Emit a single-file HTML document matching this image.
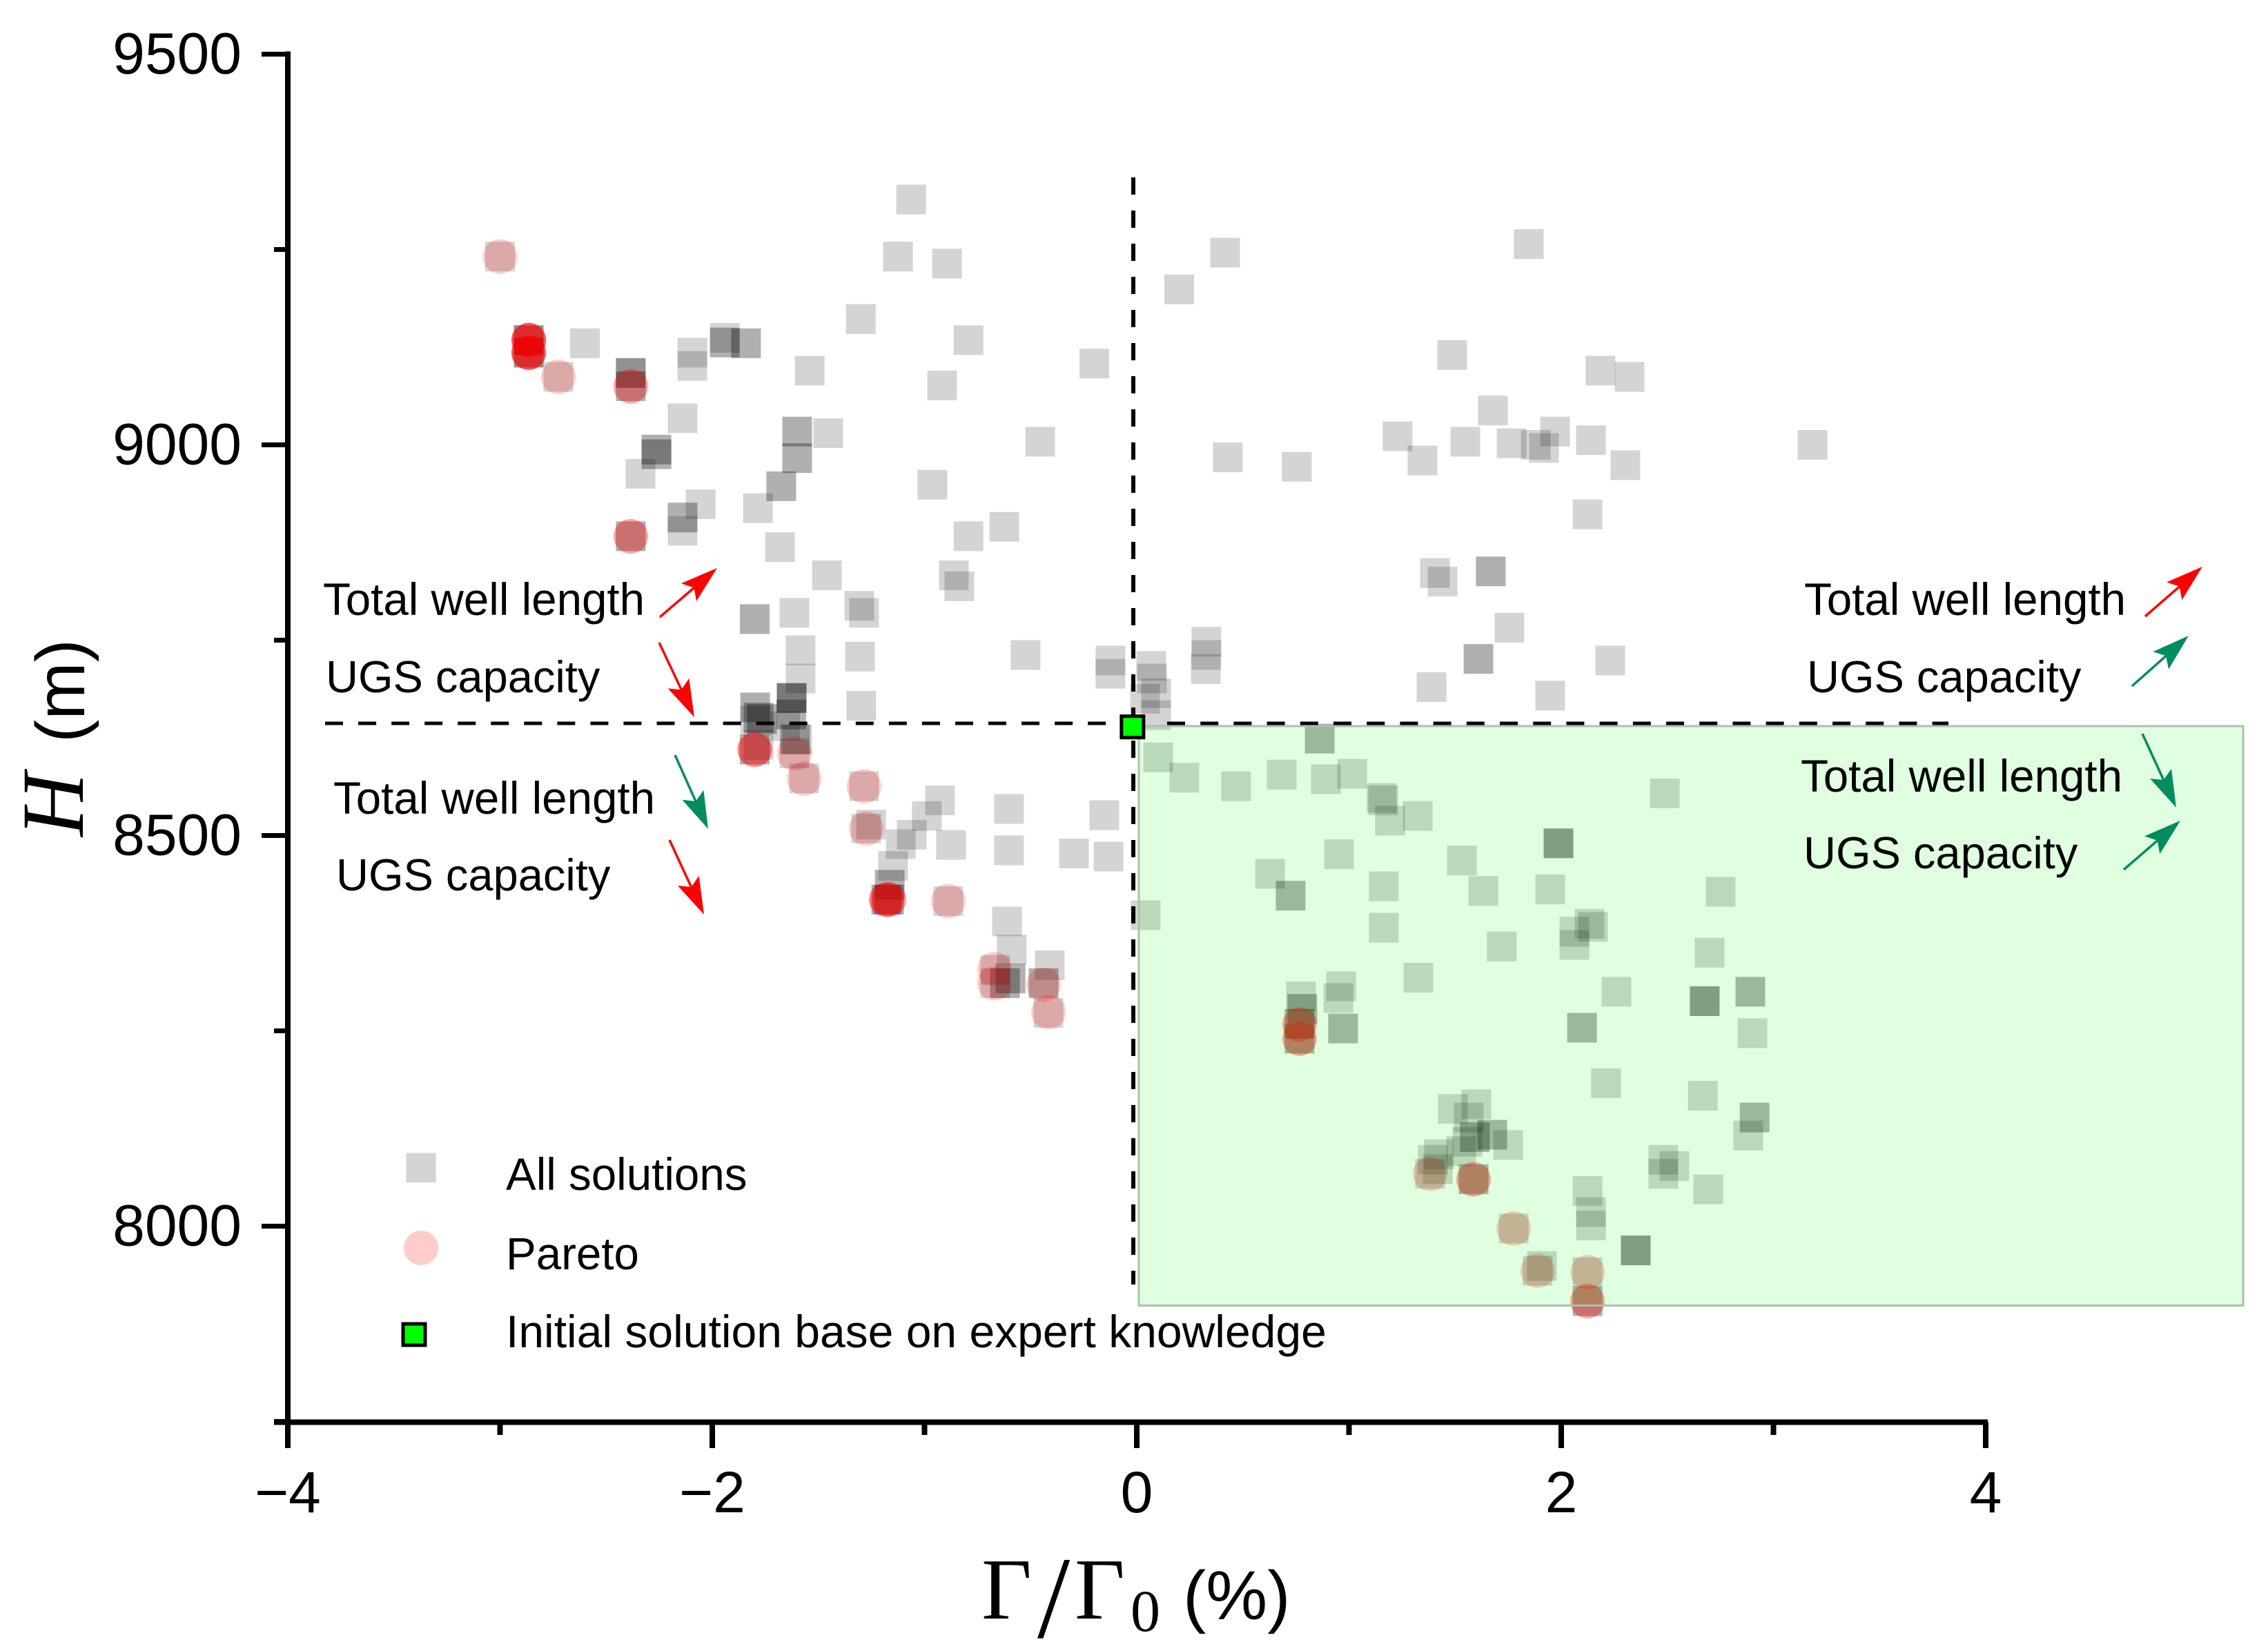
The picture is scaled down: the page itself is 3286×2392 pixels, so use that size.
<!DOCTYPE html>
<html lang="en">
<head>
<meta charset="utf-8">
<title>Pareto scatter chart</title>
<style>
html,body{margin:0;padding:0;background:#fff;}
svg{display:block;}
text{font-family:"Liberation Sans",Arial,sans-serif;fill:#000;}
.serif{font-family:"Liberation Serif","Times New Roman",serif;}
.note{font-size:65.5px;}
</style>
</head>
<body>
<svg id="chart" xmlns="http://www.w3.org/2000/svg" width="3286" height="2392" viewBox="0 0 3286 2392">
  <rect x="0" y="0" width="3286" height="2392" fill="#fff"/>
  <g id="all-layer"></g>
  <g id="pareto-layer"></g>
  <rect x="1650" y="1052" width="1600" height="839.5" fill="#00ff00" fill-opacity="0.12" stroke="#aac3aa" stroke-width="3"/>
  <line x1="471" y1="1048" x2="1625" y2="1048" stroke="#000" stroke-width="5" stroke-dasharray="26 22.05"/>
  <line x1="1691" y1="1048" x2="2823" y2="1048" stroke="#000" stroke-width="5" stroke-dasharray="26 22.2"/>
  <line x1="1642" y1="257" x2="1642" y2="1861" stroke="#000" stroke-width="6" stroke-dasharray="25 23"/>
  <g id="initial-layer"></g>
  <g id="axes-layer"></g>

  <text class="serif" font-style="italic" font-size="128" transform="translate(120 1212) rotate(-90)">H</text>
  <text font-size="100" transform="translate(122 1076) rotate(-90)">(m)</text>

  <g>
    <text class="serif" font-size="126" x="1422" y="2345">Γ</text>
    <text class="serif" font-size="170" x="1503" y="2372">/</text>
    <text class="serif" font-size="126" x="1557" y="2345">Γ</text>
    <text class="serif" font-size="86" x="1638" y="2363">0</text>
    <text font-size="100" x="1714" y="2346">(%)</text>
  </g>

  <text class="note" x="468" y="891">Total well length</text>
  <text class="note" font-size="65" style="font-size:65px" x="472" y="1003">UGS capacity</text>
  <text class="note" x="483" y="1179">Total well length</text>
  <text class="note" style="font-size:65px" x="487" y="1290">UGS capacity</text>
  <text class="note" x="2614" y="891">Total well length</text>
  <text class="note" style="font-size:65px" x="2618" y="1003">UGS capacity</text>
  <text class="note" x="2609" y="1147">Total well length</text>
  <text class="note" style="font-size:65px" x="2613" y="1258">UGS capacity</text>

  <g id="arrow-layer"></g>

  <g>
    <rect x="588.5" y="1670.5" width="43" height="43" fill="#000" fill-opacity="0.17"/>
    <text class="note" x="733" y="1724">All solutions</text>
    <circle cx="610" cy="1808" r="25" fill="#ff0000" fill-opacity="0.2"/>
    <text class="note" x="733" y="1839">Pareto</text>
    <rect x="584" y="1918" width="32" height="31" fill="#00ff00" stroke="#000" stroke-width="5"/>
    <text class="note" style="font-size:66px" x="733" y="1952">Initial solution base on expert knowledge</text>
  </g>
</svg>

<script>
var yMajorTicks = [8000, 8500, 9000, 9500];
var yMinorTicks = [7750, 8250, 8750, 9250];
var xMajorTicks = [-4, -2, 0, 2, 4];
var xMinorTicks = [-3, -1, 1, 3];
var yTickLabels = ['8000', '8500', '9000', '9500'];
var xTickLabels = ['\u22124', '\u22122', '0', '2', '4'];

var allSolutionsX = [
-3.00,-2.865,-2.865,-2.865,-2.865,-2.865,-2.865,-2.725,-2.60,-2.384,-2.384,-2.384,-2.384,-2.384,-2.094,-2.094,-1.941,-1.941,-1.941,-1.841,-1.841,-2.14,
-2.263,-2.263,-2.263,-2.263,-2.338,-2.055,-2.14,-2.14,-2.14,-2.384,-2.384,-1.80,-1.80,
-1.063,-1.125,-0.894,-1.30,-0.793,-1.541,-0.917,-0.20,0.416,0.20,-1.60,-1.60,-1.60,-1.60,-1.454,-0.455,-1.675,-1.675,-1.785,0.429,0.754,1.229,1.346,-0.963,-1.681,-0.793,-0.624,-1.46,-0.862,-0.836,-1.613,-1.307,-1.285,
-1.584,-1.584,-1.304,-0.524,-0.124,-0.124,0.068,0.072,0.091,0.039,0.091,0.328,0.328,0.325,-1.298,
-1.798,-1.798,-1.782,-1.782,-1.766,-1.766,-1.798,-1.782,-1.80,-1.80,
-1.626,-1.626,-1.626,-1.626,-1.628,-1.628,-1.657,-1.61,-1.61,-1.60,-1.613,-1.567,-1.285,-1.275,-1.252,
-0.927,-0.989,-1.06,-1.112,-0.875,-0.602,-0.602,-0.153,-0.296,-0.133,-1.148,-1.164,-1.164,-1.18,-1.18,-1.167,-1.167,-0.888,-0.611,-0.589,-0.41,-0.439,-0.439,-0.416,-0.595,-0.595,-0.621,-0.621,-0.667,-0.667,0.042,
0.862,0.862,0.101,0.224,0.468,0.683,0.891,1.015,1.154,1.161,1.193,1.324,2.488,1.987,1.987,1.987,0.953,1.532,0.628,0.725,0.725,1.164,1.633,1.948,2.751,1.164,1.72,2.062,2.062,2.133,2.15,2.699,1.327,2.26,2.891,2.891,2.676,2.676,2.676,
0.774,0.78,0.78,0.767,0.767,0.767,0.767,0.963,0.95,0.972,0.972,2.098,2.098,2.901,2.211,2.667,
1.489,1.60,1.564,2.911,2.911,2.881,1.675,1.675,1.593,1.593,1.558,1.528,1.75,1.424,1.395,1.418,1.382,
2.481,2.481,2.533,1.587,1.587,2.693,2.124,2.14,2.14,1.776,2.351,2.351,2.351,1.909,1.889,2.124,2.124,2.124,
1.847,1.486,2.185,2.322,1.678,1.548,1.766,1.971,1.88,1.919,2.14,2.302,3.184,2.124,1.668,1.668,1.405,1.441,1.756,1.61,1.61,2.231,1.948,1.389
];
var allSolutionsY = [
9241,9134,9134,9134,9118,9118,9118,9087,9130,9092,9092,9092,9075,9075,9118,9101,9137,9131,9131,9130,9130,9034,
8994,8994,8988,8988,8963,8924,8907,8907,8890,8883,8883,8777,8777,
9314,9241,9232,9161,9134,9095,9076,9104,9246,9199,9017,9017,8983,8983,9015,9004,8947,8947,8919,8984,8972,9011,8980,8949,8869,8883,8895,8833,8833,8819,8785,8794,8785,
8737,8701,8729,8731,8724,8707,8717,8701,8682,8675,8654,8748,8731,8713,8666,
8664,8664,8651,8651,8649,8649,8647,8616,8610,8610,
8676,8676,8676,8676,8655,8655,8640,8623,8623,8623,8605,8573,8563,8509,8514,
8545,8525,8501,8489,8488,8534,8481,8526,8477,8473,8461,8437,8437,8418,8418,8418,8418,8416,8390,8354,8334,8311,8311,8273,8317,8317,8311,8311,8328,8311,8398,
8624,8624,8600,8574,8563,8578,8572,8579,8548,8545,8519,8525,8554,8490,8490,8490,8476,8468,8451,8423,8423,8435,8429,8431,8428,8382,8358,8377,8360,8387,8383,8350,8318,8300,8300,8300,8288,8288,8288,
8294,8278,8278,8259,8259,8240,8240,8307,8292,8253,8253,8254,8254,8247,8183,8167,
8150,8156,8139,8139,8139,8116,8117,8117,8114,8114,8108,8096,8104,8092,8085,8073,8067,
8085,8067,8077,8060,8060,8047,8045,8018,8001,7997,7969,7969,7969,7949,7943,7941,7904,7904,
9257,9115,9095,9087,9044,9004,9002,9017,9000,8996,9006,8974,9000,8911,8838,8838,8836,8825,8766,8726,8726,8724,8679,8690
];

var paretoX = [
-3.00,-2.865,-2.865,-2.865,-2.865,-2.865,-2.865,-2.865,-2.865,-2.865,-2.865,-2.725,-2.384,-2.384,-2.384,-2.384,
-1.80,-1.80,-1.80,-1.613,-1.567,-1.285,-1.275,-1.18,-1.18,-1.18,-1.167,-1.167,-0.888,-0.67,-0.67,-0.439,-0.416,
0.767,0.767,0.767,0.767,1.382,1.587,1.587,1.776,1.889,2.124,2.124,2.124
];
var paretoY = [
9241,9134,9134,9134,9134,9134,9118,9118,9118,9118,9118,9087,9075,9075,8883,8883,
8610,8610,8610,8605,8573,8563,8509,8418,8418,8418,8418,8418,8416,8329,8311,8309,8274,
8258,8258,8240,8240,8067,8060,8060,7997,7943,7941,7904,7904
];

var initialX = [-0.02];
var initialY = [8639];

var SVG_NS = 'http://www.w3.org/2000/svg';
var SQUARE_SIZE = 43;
var CIRCLE_RADIUS = 25;

function xScale(v) { return 1647 + v * 307.5; }
function yScale(v) { return 1210.5 - (v - 8500) * 1.132; }

function make(tag, parent, attrs) {
  var el = document.createElementNS(SVG_NS, tag);
  for (var k in attrs) { el.setAttribute(k, attrs[k]); }
  parent.appendChild(el);
  return el;
}

var allLayer = document.getElementById('all-layer');
allSolutionsX.forEach(function (xv, i) {
  var el = make('rect', allLayer, {
    x: xScale(xv) - SQUARE_SIZE / 2,
    y: yScale(allSolutionsY[i]) - SQUARE_SIZE / 2,
    width: SQUARE_SIZE,
    height: SQUARE_SIZE,
    fill: '#000',
    'fill-opacity': 0.17
  });
  
  
});

var paretoLayer = document.getElementById('pareto-layer');
paretoX.forEach(function (xv, i) {
  var el = make('circle', paretoLayer, {
    cx: xScale(xv),
    cy: yScale(paretoY[i]),
    r: CIRCLE_RADIUS,
    fill: '#ff0000',
    'fill-opacity': 0.2
  });
  
  
});

var initialLayer = document.getElementById('initial-layer');
initialX.forEach(function (xv, i) {
  var el = make('rect', initialLayer, {
    x: xScale(xv) - 16,
    y: yScale(initialY[i]) - 15.5,
    width: 32,
    height: 31,
    fill: '#00ff00',
    stroke: '#000',
    'stroke-width': 5
  });
  
  
});

var axes = document.getElementById('axes-layer');
var xAxisY = yScale(7750) + 1;
var yAxisLine = make('line', axes, { x1: 417, y1: yScale(9500) - 4, x2: 417, y2: xAxisY + 4, stroke: '#000', 'stroke-width': 8 });


var xAxisLine = make('line', axes, { x1: 397, y1: xAxisY, x2: xScale(4) + 3, y2: xAxisY, stroke: '#000', 'stroke-width': 8 });



yMajorTicks.forEach(function (v, i) {
  var tick = make('line', axes, { x1: 379, y1: yScale(v), x2: 417, y2: yScale(v), stroke: '#000', 'stroke-width': 7 });
  
  
  var label = make('text', axes, { x: 350, y: yScale(v) + 28, 'text-anchor': 'end', 'font-size': 84 });
  
  
  label.textContent = yTickLabels[i];
});
yMinorTicks.forEach(function (v) {
  var tick = make('line', axes, { x1: 397, y1: yScale(v), x2: 417, y2: yScale(v), stroke: '#000', 'stroke-width': 7 });
  
  
});
xMajorTicks.forEach(function (v, i) {
  var tick = make('line', axes, { x1: xScale(v), y1: xAxisY, x2: xScale(v), y2: 2098, stroke: '#000', 'stroke-width': 8 });
  
  
  var label = make('text', axes, { x: xScale(v), y: 2191, 'text-anchor': 'middle', 'font-size': 84 });
  
  
  label.textContent = xTickLabels[i];
});
xMinorTicks.forEach(function (v) {
  var tick = make('line', axes, { x1: xScale(v), y1: xAxisY, x2: xScale(v), y2: 2079, stroke: '#000', 'stroke-width': 8 });
  
  
});

var arrowLayer = document.getElementById('arrow-layer');
function drawArrow(name, x1, y1, x2, y2, color) {
  var dx = x2 - x1, dy = y2 - y1;
  var len = Math.sqrt(dx * dx + dy * dy);
  var ux = dx / len, uy = dy / len;
  var nx = -uy, ny = ux;
  var headLen = 54, headHalf = 17, notch = 44;
  var g = make('g', arrowLayer, {});
  
  
  make('line', g, { x1: x1, y1: y1, x2: x2 - ux * notch, y2: y2 - uy * notch, stroke: color, 'stroke-width': 3.5 });
  var bx = x2 - ux * headLen, by = y2 - uy * headLen;
  var pts = [
    [x2, y2],
    [bx + nx * headHalf, by + ny * headHalf],
    [x2 - ux * notch, y2 - uy * notch],
    [bx - nx * headHalf, by - ny * headHalf]
  ].map(function (p) { return p[0].toFixed(1) + ',' + p[1].toFixed(1); }).join(' ');
  make('polygon', g, { points: pts, fill: color });
}
var RED = '#ff0000';
var GREEN = '#008c5f';
drawArrow('arrow-top-left-well-length', 956, 894, 1039, 823, RED);
drawArrow('arrow-top-left-ugs', 955, 931, 1006, 1039, RED);
drawArrow('arrow-bottom-left-well-length', 978, 1094, 1026, 1201, GREEN);
drawArrow('arrow-bottom-left-ugs', 970, 1217, 1020, 1325, RED);
drawArrow('arrow-top-right-well-length', 3108, 893, 3191, 821, RED);
drawArrow('arrow-top-right-ugs', 3089, 994, 3171, 921, GREEN);
drawArrow('arrow-bottom-right-well-length', 3104, 1063, 3153, 1170, GREEN);
drawArrow('arrow-bottom-right-ugs', 3077, 1260, 3159, 1189, GREEN);
</script>
</body>
</html>
